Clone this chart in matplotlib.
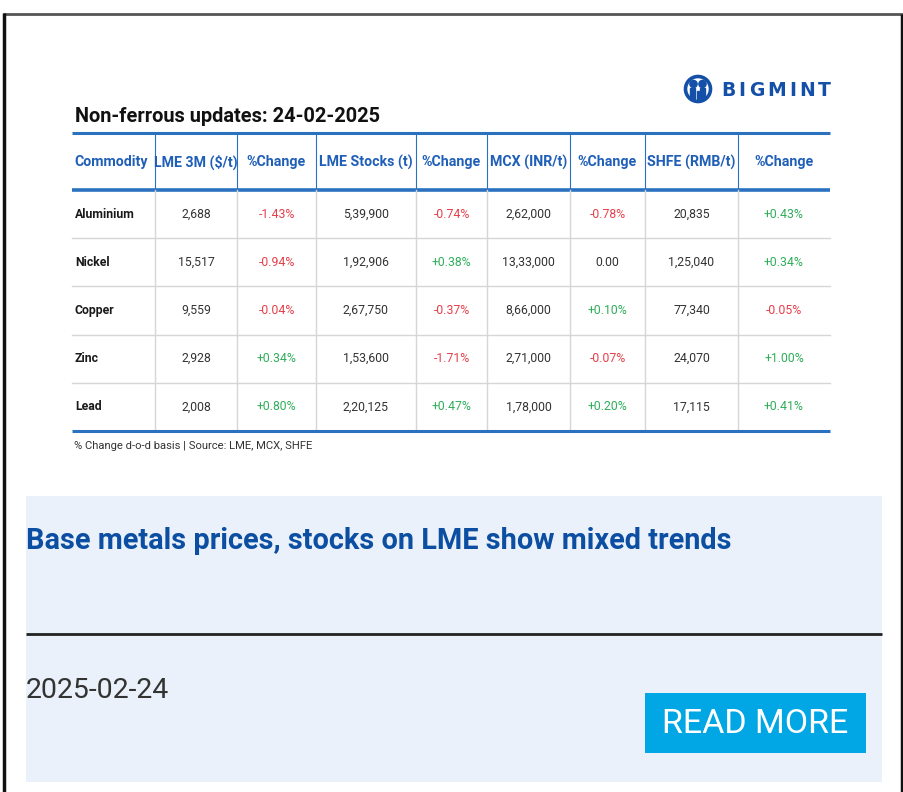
import matplotlib
matplotlib.use("Agg")
import matplotlib.pyplot as plt
from matplotlib.patches import Rectangle, Circle

# ---------------- data ----------------
title = "Non-ferrous updates: 24-02-2025"
headers = ["Commodity", "LME 3M ($/t)", "%Change", "LME Stocks (t)", "%Change",
           "MCX (INR/t)", "%Change", "SHFE (RMB/t)", "%Change"]
commodities = ["Aluminium", "Nickel", "Copper", "Zinc", "Lead"]
lme_3m = ["2,688", "15,517", "9,559", "2,928", "2,008"]
lme_3m_chg = ["-1.43%", "-0.94%", "-0.04%", "+0.34%", "+0.80%"]
lme_stocks = ["5,39,900", "1,92,906", "2,67,750", "1,53,600", "2,20,125"]
lme_stocks_chg = ["-0.74%", "+0.38%", "-0.37%", "-1.71%", "+0.47%"]
mcx = ["2,62,000", "13,33,000", "8,66,000", "2,71,000", "1,78,000"]
mcx_chg = ["-0.78%", "0.00", "+0.10%", "-0.07%", "+0.20%"]
shfe = ["20,835", "1,25,040", "77,340", "24,070", "17,115"]
shfe_chg = ["+0.43%", "+0.34%", "-0.05%", "+1.00%", "+0.41%"]
footnote = "% Change d-o-d basis | Source: LME, MCX, SHFE"
headline = "Base metals prices, stocks on LME show mixed trends"
date_text = "2025-02-24"
button_text = "READ MORE"
brand = "BIGMINT"

# ---------------- layout ----------------
W, H = 904, 792
fig = plt.figure(figsize=(W / 100, H / 100), dpi=100)
ax = fig.add_axes([0, 0, 1, 1])
ax.set_xlim(0, W)
ax.set_ylim(H, 0)
ax.axis("off")
renderer = fig.canvas.get_renderer()

FONT = ["Roboto", "DejaVu Sans"]
BLUE_LINE = "#2a72c0"
HEAD_BLUE = "#1f5fb8"
RED = "#e5404a"
GREEN = "#2fae5a"
GRID = "#d6d6d6"
LOGO = "#1550a8"

# outer frame
ax.plot([3, W], [13.5, 13.5], color="#555555", lw=2, solid_capstyle="butt")
ax.plot([4.5, 4.5], [13, H], color="#111111", lw=2.5, solid_capstyle="butt")
ax.plot([902.5, 902.5], [14, H], color="#111111", lw=2.5, solid_capstyle="butt")

# logo icon
cx, cy = 698, 89
ax.add_patch(Circle((cx, cy), 12.5, facecolor="none", edgecolor=LOGO, lw=2.6))
ax.add_patch(Circle((cx - 4.5, cy - 5), 3.6, color=LOGO))
ax.add_patch(Circle((cx + 4.5, cy - 5), 3.6, color=LOGO))
ax.add_patch(Rectangle((cx - 7.5, cy - 1), 5, 11, color=LOGO))
ax.add_patch(Rectangle((cx + 2.5, cy - 1), 5, 11, color=LOGO))
ax.add_patch(Rectangle((cx - 1, cy + 2), 2, 9, color=LOGO))

# logo word with even letter spacing
letters = []
widths = []
for ch in brand:
    t = ax.text(0, 90, ch, fontsize=13.5, fontweight="bold", color=LOGO,
                family=["DejaVu Sans"], ha="left", va="center")
    letters.append(t)
    widths.append(t.get_window_extent(renderer).width)
x_start, x_end = 721, 831
gap = (x_end - x_start - sum(widths)) / (len(brand) - 1)
x = x_start
for t, w in zip(letters, widths):
    t.set_x(x)
    x += w + gap

# title
ax.text(75, 116, title, fontsize=14.4, fontweight="bold", color="#111111",
        family=FONT, ha="left", va="center")

# table geometry
col_edges = [72, 155, 237, 316, 416, 487, 570, 645, 738, 830]
header_top, header_bot = 133, 190
row_h = 48.2
n_rows = len(commodities)
table_bot = header_bot + row_h * n_rows

ax.plot([72, 830], [header_top, header_top], color=BLUE_LINE, lw=2.2, solid_capstyle="butt")
ax.plot([72, 830], [header_bot, header_bot], color=BLUE_LINE, lw=2.6, solid_capstyle="butt")
for xe in col_edges[1:-1]:
    ax.plot([xe, xe], [header_top, header_bot], color=BLUE_LINE, lw=0.8)
    ax.plot([xe, xe], [header_bot, table_bot], color=GRID, lw=1)
for r in range(1, n_rows):
    y = header_bot + r * row_h
    ax.plot([72, 830], [y, y], color=GRID, lw=1)
ax.plot([72, 830], [table_bot, table_bot], color=BLUE_LINE, lw=2.2, solid_capstyle="butt")

for j, h in enumerate(headers):
    xc = (col_edges[j] + col_edges[j + 1]) / 2
    if j == 0:
        ax.text(col_edges[0] + 2, 162, h, fontsize=10.2, fontweight="bold", color=HEAD_BLUE,
                family=FONT, ha="left", va="center")
    else:
        ax.text(xc, 162, h, fontsize=10.2, fontweight="bold", color=HEAD_BLUE,
                family=FONT, ha="center", va="center")

columns = [lme_3m, lme_3m_chg, lme_stocks, lme_stocks_chg, mcx, mcx_chg, shfe, shfe_chg]

def val_color(s):
    if s.startswith("-"):
        return RED
    if s.startswith("+"):
        return GREEN
    return "#333333"

for i, name in enumerate(commodities):
    yc = header_bot + row_h * (i + 0.5)
    ax.text(col_edges[0] + 3, yc, name, fontsize=8.8, fontweight="bold", color="#1a1a1a",
            family=FONT, ha="left", va="center")
    for j, col in enumerate(columns):
        xc = (col_edges[j + 1] + col_edges[j + 2]) / 2
        v = col[i]
        ax.text(xc, yc, v, fontsize=8.8, color=val_color(v) if j % 2 == 1 else "#333333",
                family=FONT, ha="center", va="center")

ax.text(74, 446, footnote, fontsize=8.1, color="#333333", family=FONT, ha="left", va="center")

# bottom card
ax.add_patch(Rectangle((26, 496), 856, 286, facecolor="#eaf1fa", edgecolor="none"))
ax.text(26, 541, headline, fontsize=20.8, fontweight="bold", color="#0b4ea2",
        family=FONT, ha="left", va="center")
ax.plot([26, 882], [633.5, 633.5], color="#222222", lw=2, solid_capstyle="butt")
ax.text(26, 690, date_text, fontsize=20.5, color="#333333", family=FONT,
        ha="left", va="center")
ax.add_patch(Rectangle((645, 693), 221, 60, facecolor="#01a7e4", edgecolor="none"))
ax.text(755.5, 724, button_text, fontsize=24.5, color="white", family=FONT,
        ha="center", va="center")

fig.savefig("out.png", dpi=100)
